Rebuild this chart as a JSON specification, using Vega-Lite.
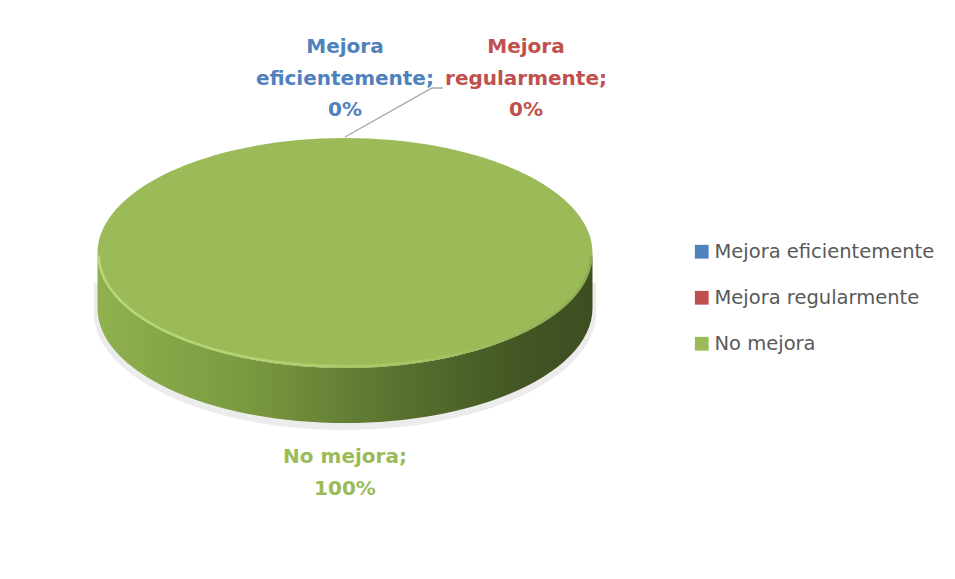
{
  "$schema": "https://vega.github.io/schema/vega-lite/v6.json",
  "width": 690,
  "height": 506,
  "autosize": {"type": "none"},
  "padding": {"left": 0, "top": 0, "right": 265, "bottom": 73},
  "background": "white",
  "config": {"view": {"stroke": null}},
  "data": {
    "values": [
      {"categoria": "Mejora eficientemente", "pct": 0},
      {"categoria": "Mejora regularmente", "pct": 0},
      {"categoria": "No mejora", "pct": 100}
    ]
  },
  "transform": [
    {"calculate": "replace(datum.categoria, 'Mejora ', 'Mejora\\n') + ';\\n' + datum.pct + '%'", "as": "etiqueta"}
  ],
  "layer": [
    {
      "transform": [{"filter": "datum.pct > 0"}],
      "mark": {
        "type": "point",
        "shape": "M -1.015 0.12 L -1.015 0.24 C -1.015 0.5 -0.56 0.715 0 0.715 C 0.56 0.715 1.015 0.5 1.015 0.24 L 1.015 0.12 Z",
        "size": 245025,
        "filled": true,
        "opacity": 1,
        "fill": "#ececec"
      },
      "encoding": {}
    },
    {
      "transform": [{"filter": "datum.pct > 0"}],
      "mark": {
        "type": "point",
        "shape": "M -1 0 L -1 0.222 C -1 0.4786 -0.5523 0.6866 0 0.6866 C 0.5523 0.6866 1 0.4786 1 0.222 L 1 0 C 1 0.2566 0.5523 0.4646 0 0.4646 C -0.5523 0.4646 -1 0.2566 -1 0 Z",
        "size": 245025,
        "filled": true,
        "opacity": 1,
        "fill": {
          "gradient": "linear",
          "x1": 0, "y1": 0, "x2": 1, "y2": 0,
          "stops": [
            {"offset": 0, "color": "#8fb14d"},
            {"offset": 0.3, "color": "#7a9a40"},
            {"offset": 0.6, "color": "#5a7230"},
            {"offset": 0.85, "color": "#435624"},
            {"offset": 1, "color": "#3d4e21"}
          ]
        }
      },
      "encoding": {}
    },
    {
      "transform": [{"filter": "datum.pct > 0"}],
      "mark": {
        "type": "point",
        "shape": "M -1 0 C -1 -0.2566 -0.5523 -0.4646 0 -0.4646 C 0.5523 -0.4646 1 -0.2566 1 0 C 1 0.2566 0.5523 0.4646 0 0.4646 C -0.5523 0.4646 -1 0.2566 -1 0 Z",
        "size": 245025,
        "filled": true,
        "opacity": 1,
        "strokeWidth": 0
      },
      "encoding": {
        "color": {
          "field": "categoria",
          "type": "nominal",
          "scale": {
            "domain": ["Mejora eficientemente", "Mejora regularmente", "No mejora"],
            "range": ["#4F81BD", "#C0504D", "#9BBB59"]
          },
          "legend": {
            "title": null,
            "orient": "none",
            "legendX": 692,
            "legendY": 242,
            "padding": 0,
            "symbolType": "square",
            "symbolSize": 190,
            "symbolStrokeWidth": 0,
            "symbolOpacity": 1,
            "labelFont": "DejaVu Sans",
            "labelFontSize": 19.5,
            "labelColor": "#595959",
            "labelOffset": 3,
            "rowPadding": 25,
            "labelLimit": 400
          }
        }
      }
    },
    {
      "transform": [{"filter": "datum.pct > 0"}],
      "mark": {
        "type": "point",
        "shape": "M -0.995 0.01 C -0.99 0.2566 -0.5523 0.458 0 0.458 C 0.5523 0.458 0.99 0.2566 0.995 0.01",
        "size": 245025,
        "filled": false,
        "opacity": 1,
        "strokeWidth": 2.5,
        "stroke": {
          "gradient": "linear",
          "x1": 0, "y1": 0, "x2": 1, "y2": 0,
          "stops": [
            {"offset": 0, "color": "#b9d877"},
            {"offset": 0.35, "color": "#b3d270"},
            {"offset": 0.7, "color": "#a3c262"},
            {"offset": 1, "color": "#8eaa4f"}
          ]
        }
      },
      "encoding": {}
    },
    {
      "transform": [{"filter": "datum.categoria === 'Mejora eficientemente'"}],
      "mark": {
        "type": "point",
        "shape": "M 0 -0.4687 L 0.3515 -0.6667 L 0.396 -0.6667",
        "size": 245025,
        "filled": false,
        "opacity": 1,
        "color": "#a6a6a6",
        "strokeWidth": 1.3
      },
      "encoding": {}
    },
    {
      "transform": [{"filter": "datum.categoria === 'Mejora eficientemente'"}],
      "mark": {
        "type": "text",
        "radius": 206,
        "font": "DejaVu Sans",
        "fontSize": 20,
        "fontWeight": "bold",
        "lineBreak": "\n",
        "lineHeight": 31.5,
        "baseline": "middle",
        "align": "center",
        "color": "#4F81BD"
      },
      "encoding": {
        "theta": {"field": "pct", "type": "quantitative", "stack": true, "scale": {"domain": [0, 100]}},
        "text": {"field": "etiqueta", "type": "nominal"}
      }
    },
    {
      "transform": [{"filter": "datum.categoria === 'Mejora regularmente'"}],
      "mark": {
        "type": "text",
        "radius": 206,
        "dx": 181,
        "font": "DejaVu Sans",
        "fontSize": 20,
        "fontWeight": "bold",
        "lineBreak": "\n",
        "lineHeight": 31.5,
        "baseline": "middle",
        "align": "center",
        "color": "#C0504D"
      },
      "encoding": {
        "theta": {"field": "pct", "type": "quantitative", "stack": true, "scale": {"domain": [0, 100]}},
        "text": {"field": "etiqueta", "type": "nominal"}
      }
    },
    {
      "transform": [{"filter": "datum.categoria === 'No mejora'"}],
      "mark": {
        "type": "text",
        "radius": 204,
        "font": "DejaVu Sans",
        "fontSize": 20,
        "fontWeight": "bold",
        "lineBreak": "\n",
        "lineHeight": 31.5,
        "baseline": "middle",
        "align": "center",
        "color": "#9BBB59"
      },
      "encoding": {
        "theta": {"field": "pct", "type": "quantitative", "stack": true, "scale": {"domain": [0, 100]}},
        "text": {"field": "etiqueta", "type": "nominal"}
      }
    }
  ]
}
